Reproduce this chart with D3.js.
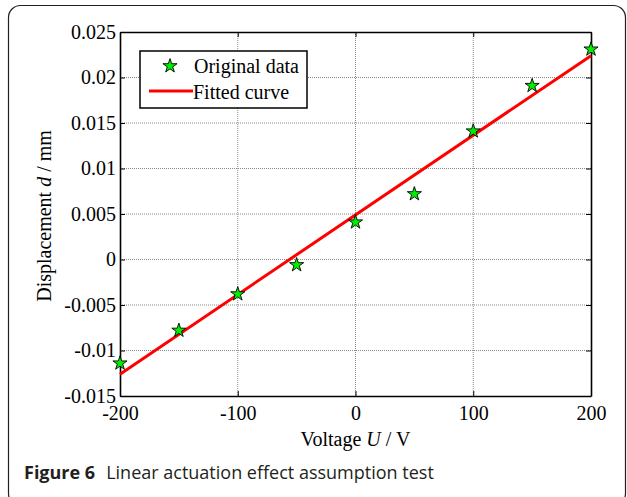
<!DOCTYPE html>
<html>
<head>
<meta charset="utf-8">
<script src="https://cdn.jsdelivr.net/npm/d3@7"></script>
<style>
  html, body { margin: 0; padding: 0; background: #fff; }
  svg text { font-family: "Liberation Serif", "Times New Roman", serif; }
</style>
</head>
<body>
<div id="container"></div>
<script>
// data
const voltage = [-200, -150, -100, -50, 0, 50, 100, 150, 200]
const displacement = [-0.0114, -0.0078, -0.0038, -0.0006, 0.0041, 0.0072, 0.0141, 0.0191, 0.0231]
const fitVoltage = [-200, 200]
const fitDisplacement = [-0.0126, 0.0224]
const xTicks = [-200, -100, 0, 100, 200]
const xTickLabels = ["-200", "-100", "0", "100", "200"]
const yTicks = [-0.015, -0.01, -0.005, 0, 0.005, 0.01, 0.015, 0.02, 0.025]
const yTickLabels = ["-0.015", "-0.01", "-0.005", "0", "0.005", "0.01", "0.015", "0.02", "0.025"]
const legendLabels = ["Original data", "Fitted curve"]

const width = 627, height = 497
const margin = {left: 120, top: 32, right: 36, bottom: 101}
const plotW = width - margin.left - margin.right
const plotH = height - margin.top - margin.bottom

const svg = d3.select("#container").append("svg")
    .attr("width", width)
    .attr("height", height)

// outer frame of the figure
svg.append("rect")
    .attr("x", 8.5).attr("y", 5.5)
    .attr("width", 617).attr("height", 500)
    .attr("rx", 12)
    .attr("fill", "none")
    .attr("stroke", "#231f20")
    .attr("stroke-width", 1.2)

const x = d3.scaleLinear().domain([-200, 200]).range([0, plotW])
const y = d3.scaleLinear().domain([-0.015, 0.025]).range([plotH, 0])

const g = svg.append("g")
    .attr("transform", `translate(${margin.left},${margin.top})`)

// grid
g.append("g").selectAll("line")
    .data(xTicks.slice(1, -1))
    .enter().append("line")
    .attr("x1", d => x(d)).attr("x2", d => x(d))
    .attr("y1", 0).attr("y2", plotH)
    .attr("stroke", "#8a8a8a").attr("stroke-width", 1)
    .attr("stroke-dasharray", "1,1")

g.append("g").selectAll("line")
    .data(yTicks.slice(1, -1))
    .enter().append("line")
    .attr("y1", d => y(d)).attr("y2", d => y(d))
    .attr("x1", 0).attr("x2", plotW)
    .attr("stroke", "#8a8a8a").attr("stroke-width", 1)
    .attr("stroke-dasharray", "1,1")

// axes, ticks inward on all four sides
const fontSize = 20
const bottomAxis = g.append("g")
    .attr("transform", `translate(0,${plotH})`)
    .call(d3.axisBottom(x).tickValues(xTicks).tickSizeInner(-5).tickSizeOuter(0).tickPadding(10)
        .tickFormat((d, i) => xTickLabels[i]))
const topAxis = g.append("g")
    .call(d3.axisTop(x).tickValues(xTicks).tickSizeInner(-5).tickSizeOuter(0).tickFormat(""))
const leftAxis = g.append("g")
    .call(d3.axisLeft(y).tickValues(yTicks).tickSizeInner(-5).tickSizeOuter(0).tickPadding(4)
        .tickFormat((d, i) => yTickLabels[i]))
const rightAxis = g.append("g")
    .attr("transform", `translate(${plotW},0)`)
    .call(d3.axisRight(y).tickValues(yTicks).tickSizeInner(-5).tickSizeOuter(0).tickFormat(""))

;[bottomAxis, topAxis, leftAxis, rightAxis].forEach(a => {
    a.attr("font-family", "Liberation Serif, serif").attr("font-size", fontSize)
    a.select(".domain").attr("stroke", "#000").attr("stroke-width", 1.6)
    a.selectAll(".tick line").attr("stroke", "#000").attr("stroke-width", 1)
    a.selectAll("text").attr("fill", "#000")
})
leftAxis.selectAll("text").attr("dy", "0.3em")
bottomAxis.selectAll("text").attr("dy", "0.72em")

// fitted line
const line = d3.line().x(d => x(d[0])).y(d => y(d[1]))
g.append("path")
    .datum(d3.zip(fitVoltage, fitDisplacement))
    .attr("d", line)
    .attr("fill", "none")
    .attr("stroke", "#ff0000")
    .attr("stroke-width", 3)

// data stars
const star = d3.symbol().type(d3.symbolStar).size(62)
g.selectAll(".pt")
    .data(d3.zip(voltage, displacement))
    .enter().append("path")
    .attr("class", "pt")
    .attr("d", star)
    .attr("transform", d => `translate(${x(d[0])},${y(d[1])})`)
    .attr("fill", "#00ee00")
    .attr("stroke", "#000")
    .attr("stroke-width", 0.9)

// legend
const legend = g.append("g").attr("transform", "translate(20,19)")
legend.append("rect")
    .attr("x", 0).attr("y", 0)
    .attr("width", 167).attr("height", 57)
    .attr("fill", "#fff")
    .attr("stroke", "#000")
    .attr("stroke-width", 1.5)
legend.append("path")
    .attr("d", star)
    .attr("transform", "translate(30,15)")
    .attr("fill", "#00ee00")
    .attr("stroke", "#000")
    .attr("stroke-width", 0.9)
legend.append("line")
    .attr("x1", 9).attr("x2", 53)
    .attr("y1", 40).attr("y2", 40)
    .attr("stroke", "#ff0000")
    .attr("stroke-width", 3)
legend.selectAll(".lt")
    .data(legendLabels)
    .enter().append("text")
    .attr("class", "lt")
    .attr("x", (d, i) => i === 0 ? 54 : 53)
    .attr("y", (d, i) => 22 + i * 26)
    .style("font-size", fontSize + "px")
    .text(d => d)

// axis titles
const xTitle = svg.append("text")
    .attr("x", margin.left + plotW / 2)
    .attr("y", 446)
    .attr("text-anchor", "middle")
    .style("font-size", fontSize + "px")
xTitle.append("tspan").text("Voltage ")
xTitle.append("tspan").style("font-style", "italic").text("U")
xTitle.append("tspan").text(" / V")

const yTitle = svg.append("text")
    .attr("transform", `translate(51,${margin.top + plotH / 2 + 2}) rotate(-90)`)
    .attr("text-anchor", "middle")
    .style("font-size", fontSize + "px")
yTitle.append("tspan").text("Displacement ")
yTitle.append("tspan").style("font-style", "italic").text("d")
yTitle.append("tspan").text(" / mm")

// caption
const caption = svg.append("text")
    .attr("x", 24)
    .attr("y", 479)
    .attr("fill", "#231f20")
    .style("font-family", "Open Sans, sans-serif")
    .style("font-size", "18px")
caption.append("tspan").style("font-weight", "bold").text("Figure 6")
caption.append("tspan").attr("dx", 11).text("Linear actuation effect assumption test")
</script>
</body>
</html>
